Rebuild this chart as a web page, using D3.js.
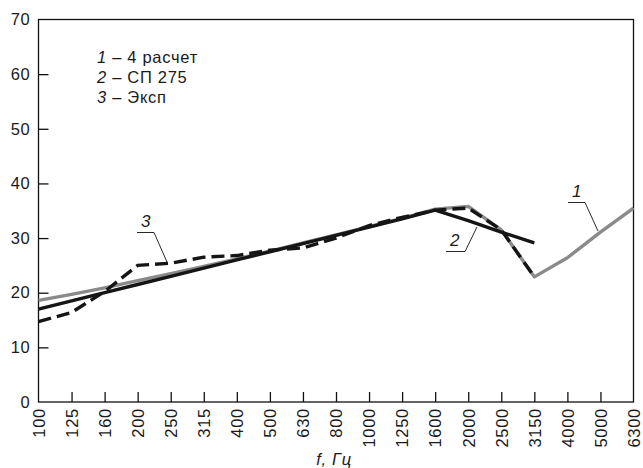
<!DOCTYPE html>
<html>
<head>
<meta charset="utf-8">
<script src="https://cdn.jsdelivr.net/npm/d3@7/dist/d3.min.js"></script>
<style>
  body { margin: 0; background: #fff; }
  svg text { font-family: "Liberation Sans", Arial, sans-serif; fill: #1a1a1a; letter-spacing: 0.7px; }
</style>
</head>
<body>
<svg id="chart" width="643" height="468"></svg>
<script>
"use strict";

const freqs = ['100', '125', '160', '200', '250', '315', '400', '500', '630', '800',
   '1000', '1250', '1600', '2000', '2500', '3150', '4000', '5000', '6300']

// 1 - расчет (серая)
const calc = [18.6, 19.7, 20.9, 22.2, 23.5, 24.8, 26.2, 27.6, 29.1, 30.6,
   32.1, 33.6, 35.3, 35.8, 31.5, 22.9, 26.4, 31.1, 35.5]
// 2 - СП 275
const sp = [17.0, 18.5, 20.0, 21.5, 23.0, 24.5, 26.0, 27.5, 29.0, 30.5,
   32.0, 33.5, 35.1, 33.2, 31.1, 29.1]
// 3 - эксперимент
const exper = [14.7, 16.4, 20.2, 25.0, 25.4, 26.5, 26.8, 27.8, 28.2, 30.0,
   32.3, 33.8, 35.1, 35.5, 31.5, 22.9]

const y_ticks = [0, 10, 20, 30, 40, 50, 60, 70]
const legend_lines = [['1', ' – 4 расчет'], ['2', ' – СП 275'], ['3', ' – Эксп']]

const margin = {left: 38.5, right: 9.5, top: 19.5, bottom: 66}
const width = 643, height = 468

const x = d3.scalePoint()
   .domain(freqs)
   .range([margin.left, width - margin.right])

const y = d3.scaleLinear()
   .domain([0, 70])
   .range([height - margin.bottom, margin.top])

let svg = d3.select('#chart')

let line = d3.line()
   .x((d, i) => x(freqs[i]))
   .y(d => y(d))

// frame
svg.append('rect')
   .attr('x', margin.left)
   .attr('y', margin.top)
   .attr('width', width - margin.right - margin.left)
   .attr('height', y(0) - margin.top)
   .attr('fill', 'none')
   .attr('stroke', '#111')
   .attr('stroke-width', 1.3)

// y axis, ticks inside
let y_axis = svg.append('g')
   .attr('transform', `translate(${margin.left},0)`)
   .call(d3.axisRight(y).tickValues(y_ticks).tickSize(10).tickFormat(d3.format('d')))
y_axis.select('.domain').remove()
y_axis.selectAll('line').attr('stroke', '#111').attr('stroke-width', 1.3)
   .filter(d => d == 0 || d == 70).remove()
y_axis.selectAll('text')
   .attr('x', -8)
   .attr('text-anchor', 'end')
   .style('font-size', '16.5px')

// x axis, ticks inside, rotated labels
let x_axis = svg.append('g')
   .attr('transform', `translate(0,${y(0)})`)
   .call(d3.axisTop(x).tickSize(10))
x_axis.select('.domain').remove()
x_axis.selectAll('line').attr('stroke', '#111').attr('stroke-width', 1.3)
   .filter(d => d == '100' || d == '6300').remove()
x_axis.selectAll('text')
   .attr('transform', 'rotate(-90)')
   .attr('x', -6)
   .attr('y', 0)
   .attr('dy', '0.35em')
   .attr('text-anchor', 'end')
   .style('font-size', '16.5px')

svg.append('text')
   .attr('x', 334)
   .attr('y', 465)
   .attr('text-anchor', 'middle')
   .style('font-size', '16.5px')
   .style('font-style', 'italic')
   .text('f, Гц')

// curves
svg.append('path')
   .attr('d', line(calc))
   .attr('fill', 'none')
   .attr('stroke', '#8a8a8a')
   .attr('stroke-width', 3.4)
   .attr('stroke-linejoin', 'round')

svg.append('path')
   .attr('d', line(sp))
   .attr('fill', 'none')
   .attr('stroke', '#151515')
   .attr('stroke-width', 3.4)
   .attr('stroke-linejoin', 'round')

svg.append('path')
   .attr('d', line(exper))
   .attr('fill', 'none')
   .attr('stroke', '#151515')
   .attr('stroke-width', 3.4)
   .attr('stroke-dasharray', '13,6')

// leaders with numbers
const leaders = [
   {n: '1', tx: 577, ty: 200, pts: [[568, 202.5], [585, 202.5], [598, 231]]},
   {n: '2', tx: 455, ty: 249, pts: [[446, 251.5], [465, 251.5], [477, 227]]},
   {n: '3', tx: 146, ty: 230, pts: [[137, 232.5], [154, 232.5], [167, 262]]}
]
leaders.forEach(l => {
   svg.append('path')
      .attr('d', d3.line()(l.pts))
      .attr('fill', 'none')
      .attr('stroke', '#111')
      .attr('stroke-width', 0.9)
   svg.append('text')
      .attr('x', l.tx)
      .attr('y', l.ty - 3)
      .attr('text-anchor', 'middle')
      .style('font-size', '17px')
      .style('font-style', 'italic')
      .text(l.n)
})

// legend
let legend = svg.append('g')
legend_lines.forEach((d, i) => {
   let t = legend.append('text')
      .attr('x', 97)
      .attr('y', 62.5 + i * 20)
      .style('font-size', '16.5px')
   t.append('tspan').style('font-style', 'italic').text(d[0])
   t.append('tspan').text(d[1])
})
</script>
</body>
</html>
